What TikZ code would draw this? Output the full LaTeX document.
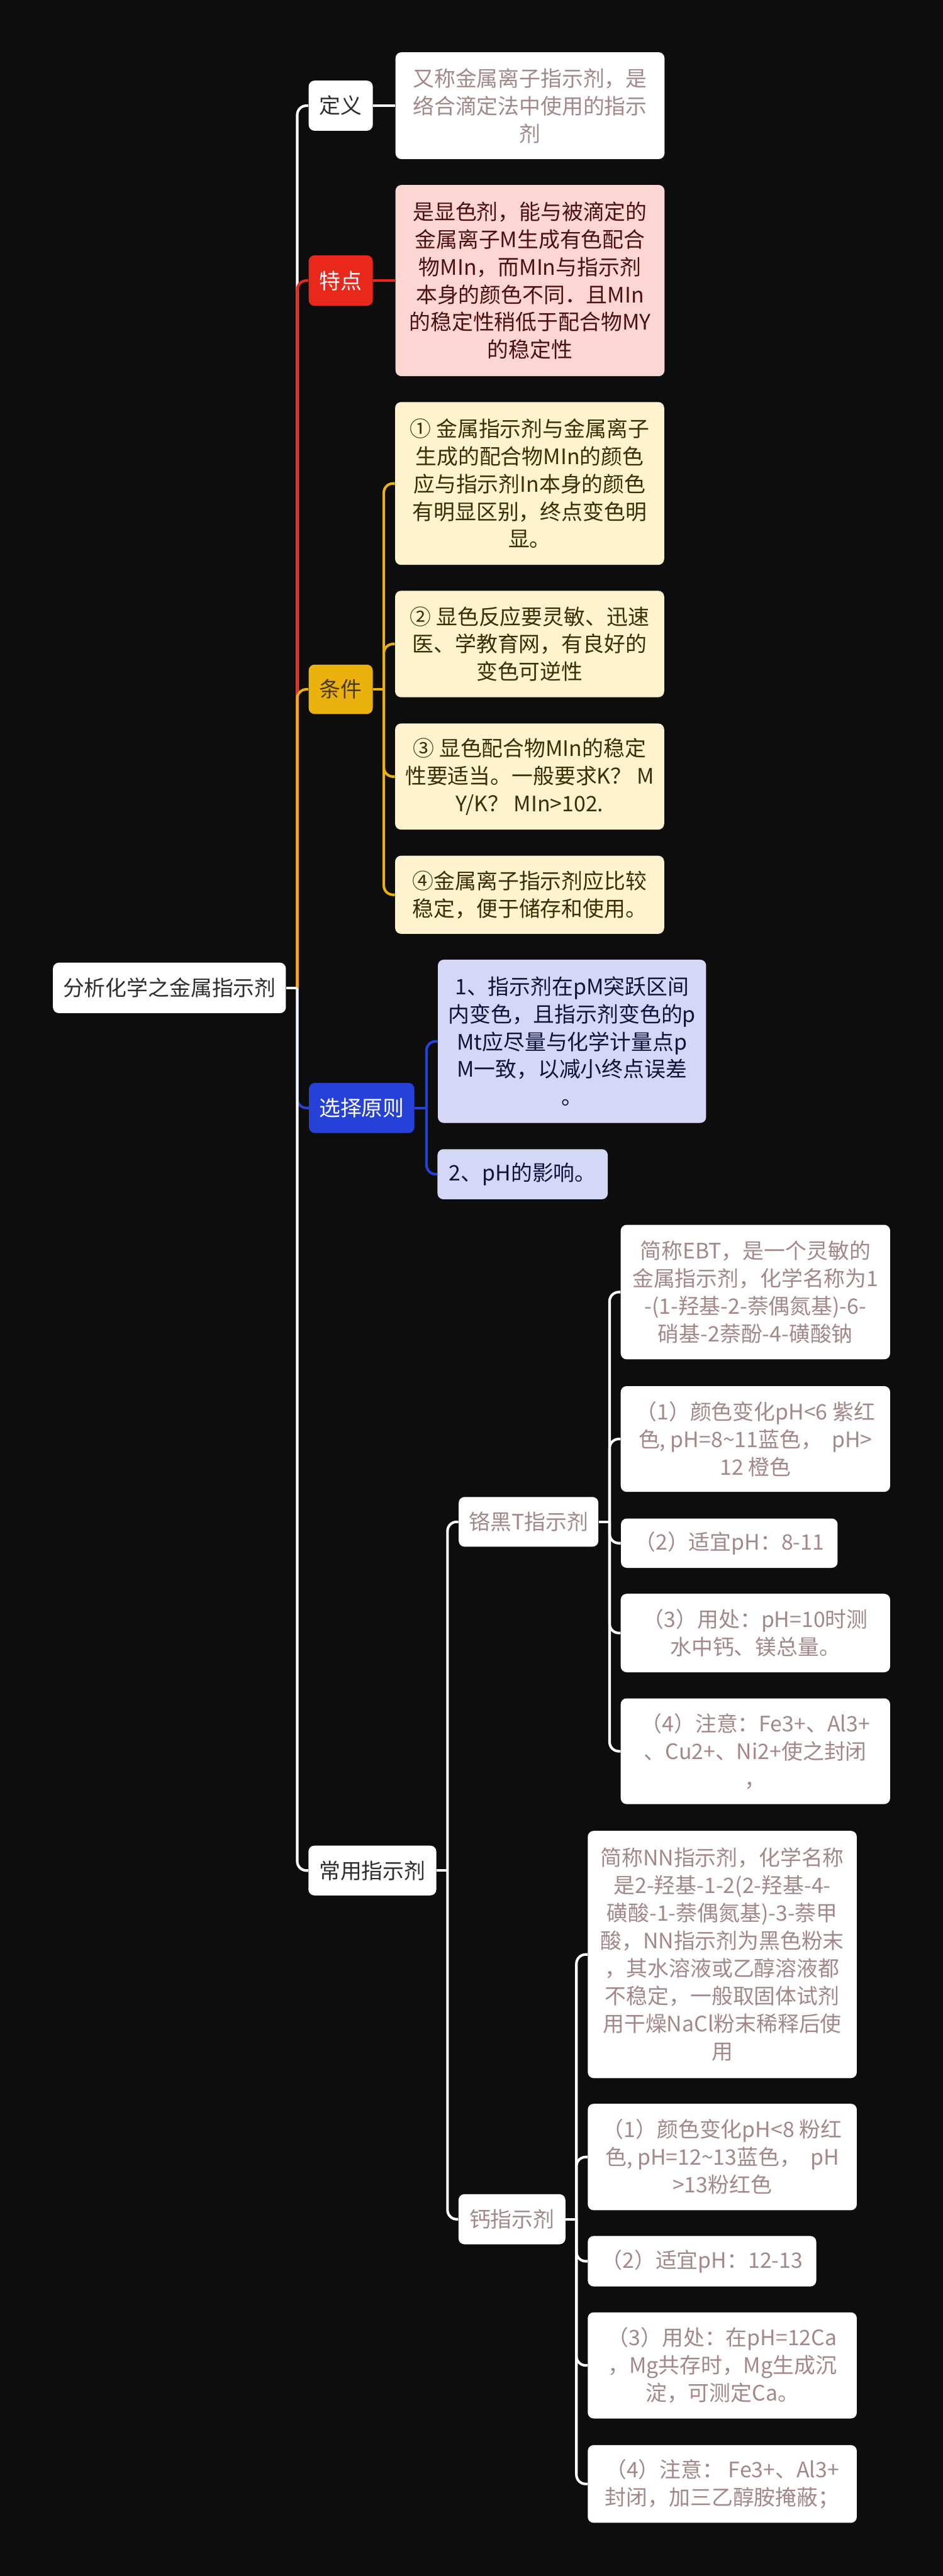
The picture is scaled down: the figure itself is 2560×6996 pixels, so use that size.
\documentclass[tikz,border=0pt]{standalone}
\usepackage{fontspec}
\setmainfont{Noto Sans CJK SC}
\definecolor{bgc}{HTML}{0D0D0D}
\definecolor{cred}{HTML}{E9281B}
\definecolor{cpinkfill}{HTML}{FBD6D3}
\definecolor{cpinktext}{HTML}{4D0F0F}
\definecolor{cyellow}{HTML}{EBB20E}
\definecolor{ccream}{HTML}{FEF2CF}
\definecolor{cbrown}{HTML}{3B2E00}
\definecolor{cyeltext}{HTML}{4A3A05}
\definecolor{cblue}{HTML}{2541D7}
\definecolor{clav}{HTML}{D4D8F6}
\definecolor{cnavy}{HTML}{10133A}
\definecolor{cpg}{HTML}{A48888}
\definecolor{cdark}{HTML}{2E2E2E}
\begin{document}
\begin{tikzpicture}[x=0.01cm,y=-0.01cm,
  every node/.style={inner sep=0pt, rounded corners=0.16cm, align=center,
    font=\fontsize{16.44}{21.34}\selectfont},
  sz/.style 2 args={minimum width=#1, minimum height=#2},
  whitebox/.style={fill=white, text=cdark},
  redbox/.style={fill=cred, text=white},
  yellowbox/.style={fill=cyellow, text=cyeltext},
  bluebox/.style={fill=cblue, text=white},
  descw/.style={fill=white, text=cpg},
  descpink/.style={fill=cpinkfill, text=cpinktext},
  desccream/.style={fill=ccream, text=cbrown},
  desclav/.style={fill=clav, text=cnavy},
  conn/.style={line width=0.07cm},
  bendline/.style={line width=0.07cm, rounded corners=0.25cm},
]
\fill[bgc] (0,0) rectangle (2560,6996);
\useasboundingbox (0,0) rectangle (2560,6996);

% branch coordinates
\coordinate (t0) at (807,0);
\coordinate (tc) at (1042,0);
\coordinate (ts) at (1158,0);
\coordinate (tm) at (1215,0);
\coordinate (te) at (1655,0);
\coordinate (tca) at (1565,0);

% root and level 1
\node[whitebox, sz={6.32cm}{1.37cm}] (root) at (460,2683) {分析化学之金属指示剂};
\node[whitebox, sz={1.74cm}{1.36cm}] (def) at (925,287) {定义};
\node[redbox, sz={1.74cm}{1.37cm}] (feat) at (925,762) {特点};
\node[yellowbox, sz={1.74cm}{1.34cm}] (cond) at (925,1872) {条件};
\node[bluebox, sz={2.86cm}{1.36cm}] (sel) at (982,3009) {选择原则};
\node[whitebox, sz={3.47cm}{1.35cm}] (com) at (1011,5080) {常用指示剂};

% level 2
\node[descw, sz={7.30cm}{2.90cm}] (defd) at (1439,287) {又称金属离子指示剂，是\\络合滴定法中使用的指示\\剂};
\node[descpink, sz={7.30cm}{5.19cm}] (featd) at (1439,762) {是显色剂，能与被滴定的\\金属离子M生成有色配合\\物MIn，而MIn与指示剂\\本身的颜色不同．且MIn\\的稳定性稍低于配合物MY\\的稳定性};
\node[desccream, sz={7.30cm}{4.42cm}] (c1) at (1438,1313) {① 金属指示剂与金属离子\\生成的配合物MIn的颜色\\应与指示剂In本身的颜色\\有明显区别，终点变色明\\显。};
\node[desccream, sz={7.30cm}{2.89cm}] (c2) at (1438,1749) {② 显色反应要灵敏、迅速\\医、学教育网，有良好的\\变色可逆性};
\node[desccream, sz={7.30cm}{2.88cm}] (c3) at (1438,2109) {③ 显色配合物MIn的稳定\\性要适当。一般要求K？ M\\Y/K？ MIn>102.};
\node[desccream, sz={7.30cm}{2.12cm}] (c4) at (1438,2430) {④金属离子指示剂应比较\\稳定，便于储存和使用。};
\node[desclav, sz={7.28cm}{4.43cm}] (s1) at (1553,2828) {1、指示剂在pM突跃区间\\内变色，且指示剂变色的p\\Mt应尽量与化学计量点p\\M一致，以减小终点误差\\。};
\node[desclav, sz={4.62cm}{1.36cm}] (s2) at (1419,3189) {2、pH的影响。};
\node[descw, sz={3.79cm}{1.35cm}] (ebt) at (1435,4133) {铬黑T指示剂};
\node[descw, sz={2.90cm}{1.36cm}] (ca) at (1390,6027) {钙指示剂};

% level 3
\node[descw, sz={7.31cm}{3.65cm}] (e0) at (2051,3509) {简称EBT，是一个灵敏的\\金属指示剂，化学名称为1\\-(1-羟基-2-萘偶氮基)-6-\\硝基-2萘酚-4-磺酸钠};
\node[descw, sz={7.31cm}{2.87cm}] (e1) at (2051,3908) {（1）颜色变化pH<6 紫红\\色, pH=8\textasciitilde 11蓝色，\ \ pH>\\12 橙色};
\node[descw, sz={5.88cm}{1.34cm}] (e2) at (1980,4191) {（2）适宜pH：8-11};
\node[descw, sz={7.31cm}{2.13cm}] (e3) at (2051,4435) {（3）用处：pH=10时测\\水中钙、镁总量。};
\node[descw, sz={7.31cm}{2.87cm}] (e4) at (2051,4756) {（4）注意：Fe3+、Al3+\\、Cu2+、Ni2+使之封闭\\，};
\node[descw, sz={7.30cm}{6.71cm}] (a0) at (1961,5308) {简称NN指示剂，化学名称\\是2-羟基-1-2(2-羟基-4-\\磺酸-1-萘偶氮基)-3-萘甲\\酸，NN指示剂为黑色粉末\\，其水溶液或乙醇溶液都\\不稳定，一般取固体试剂\\用干燥NaCl粉末稀释后使\\用};
\node[descw, sz={7.30cm}{2.89cm}] (a1) at (1961,5858) {（1）颜色变化pH<8 粉红\\色, pH=12\textasciitilde 13蓝色，\ \ pH\\>13粉红色};
\node[descw, sz={6.20cm}{1.37cm}] (a2) at (1906,6141) {（2）适宜pH：12-13};
\node[descw, sz={7.30cm}{2.88cm}] (a3) at (1961,6424) {（3）用处：在pH=12Ca\\，Mg共存时，Mg生成沉\\淀，可测定Ca。};
\node[descw, sz={7.30cm}{2.11cm}] (a4) at (1961,6746) {（4）注意： Fe3+、Al3+\\封闭，加三乙醇胺掩蔽；};

% root connectors (order matters for overlap)
\draw[conn,white] (root.east) -- (root.east -| t0);
\draw[bendline,white] (root.east -| t0) |- (def.west);
\draw[conn,cred] (root.east) -- (root.east -| t0);
\draw[bendline,cred] (root.east -| t0) |- (feat.west);
\draw[conn,cyellow] (root.east) -- (root.east -| t0);
\draw[bendline,cyellow] (root.east -| t0) |- (cond.west);
\draw[conn,cblue] (root.east) -- (root.east -| t0);
\draw[bendline,cblue] (root.east -| t0) |- (sel.west);
\draw[conn,white] (root.east) -- (root.east -| t0);
\draw[bendline,white] (root.east -| t0) |- (com.west);

% single children
\draw[conn,white] (def.east) -- (defd.west);
\draw[conn,cred] (feat.east) -- (featd.west);

% 条件
\draw[conn,cyellow] (cond.east) -- (cond.east -| tc);
\foreach \c in {c1,c2,c3,c4} \draw[bendline,cyellow] (cond.east -| tc) |- (\c.west);

% 选择原则
\draw[conn,cblue] (sel.east) -- (sel.east -| ts);
\foreach \c in {s1,s2} \draw[bendline,cblue] (sel.east -| ts) |- (\c.west);

% 常用指示剂
\draw[conn,white] (com.east) -- (com.east -| tm);
\foreach \c in {ebt,ca} \draw[bendline,white] (com.east -| tm) |- (\c.west);

% 铬黑T
\draw[conn,white] (ebt.east) -- (ebt.east -| te);
\foreach \c in {e0,e1,e2,e3,e4} \draw[bendline,white] (ebt.east -| te) |- (\c.west);

% 钙指示剂
\draw[conn,white] (ca.east) -- (ca.east -| tca);
\foreach \c in {a0,a1,a2,a3,a4} \draw[bendline,white] (ca.east -| tca) |- (\c.west);
\end{tikzpicture}
\end{document}
